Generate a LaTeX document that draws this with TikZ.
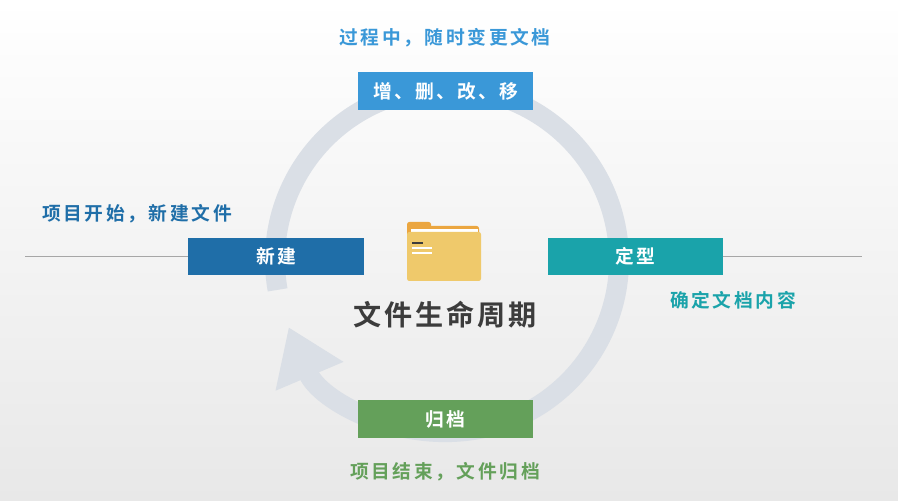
\documentclass[tikz,border=0pt]{standalone}
\usepackage{fontspec}
\newfontfamily\cjk{Noto Sans CJK SC}[BoldFont={Noto Sans CJK SC Bold}]
\usetikzlibrary{arrows.meta, positioning}
\definecolor{topblue}{HTML}{3A98D8}
\definecolor{newblue}{HTML}{1F6EA8}
\definecolor{teal}{HTML}{1AA3AA}
\definecolor{green}{HTML}{64A05A}
\definecolor{ring}{HTML}{DADFE6}
\definecolor{title}{HTML}{3C3C3C}
\definecolor{folderback}{HTML}{EBA640}
\definecolor{folderfront}{HTML}{EFC96B}
\tikzset{
  stage/.style={fill=#1, text=white, minimum width=5.25cm, minimum height=1.12cm, inner sep=0pt, font=\cjk\bfseries\fontsize{16}{18}\selectfont\addfontfeature{LetterSpace=12}},
  note/.style={text=#1, font=\cjk\bfseries\fontsize{16}{18}\selectfont\addfontfeature{LetterSpace=14}}
}
\begin{document}
\begin{tikzpicture}[x=0.03cm, y=0.03cm]
	\shade[top color=white, bottom color=black!9] (0,0) rectangle (898,500);
	\useasboundingbox (0,0) rectangle (898,500);

	% ring with arrow
	\draw[ring, line width=0.6cm, -{Triangle[length=1.6cm, width=2.1cm]}] (447,240) ++(190:172) arc[start angle=190, end angle=-157, radius=172];

	\node[stage=topblue] (edit) at (445.5,409) {增、删、改、移};
	\node[stage=newblue] (new) at (276,243.5) {新建};
	\node[stage=teal] (fix) at (635,243.5) {定型};
	\node[stage=green] (arch) at (445.5,81) {归档};

	\coordinate (lineL) at (25,243.5);
	\coordinate (lineR) at (862,243.5);
	\draw[gray!70] (lineL) -- (new.west);
	\draw[gray!70] (fix.east) -- (lineR);

	\node[note=topblue] (editnote) at (445,462) {过程中，随时变更文档};
	\node[note=newblue] (newnote) at (137,286) {项目开始，新建文件};
	\node[note=teal] (fixnote) at (733,200) {确定文档内容};
	\node[note=green] (archnote) at (445,28) {项目结束，文件归档};

	% folder
	\fill[folderback, rounded corners=2pt] (407,278) -- (407,258) -- (431,258) -- (431,278) -- cycle;
	\fill[folderback, rounded corners=2pt] (409,274) rectangle (479,260);
	\fill[white] (411,271) rectangle (478,267);
	\fill[folderfront, rounded corners=2pt] (407,268) rectangle (481,219);
	\fill[title] (412,258) rectangle (423,256);
	\fill[white] (412,253) rectangle (432,251);
	\fill[white] (412,248) rectangle (432,246);

	\node[text=title, font=\cjk\bfseries\fontsize{24}{27}\selectfont\addfontfeature{LetterSpace=10}] (life) at (445,185) {文件生命周期};
\end{tikzpicture}
\end{document}
